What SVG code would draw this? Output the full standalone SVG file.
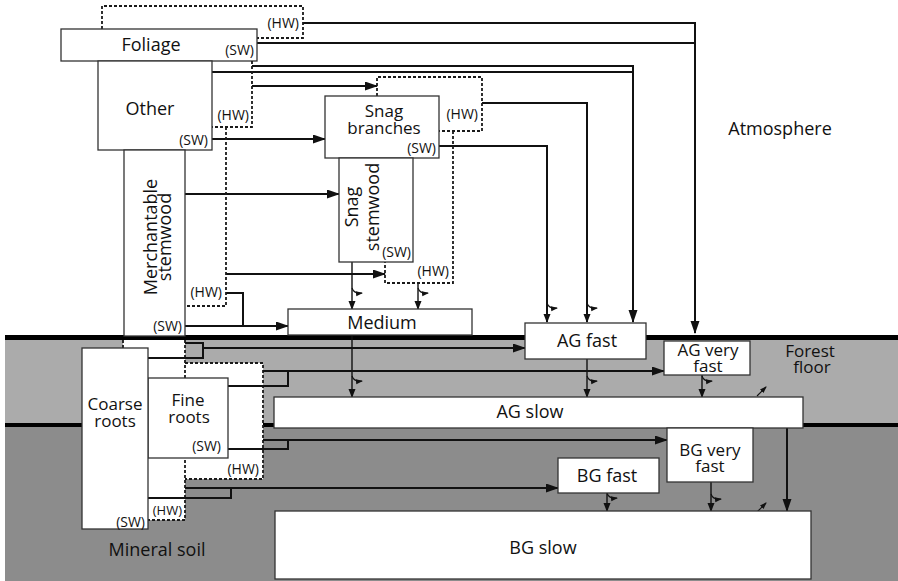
<svg xmlns="http://www.w3.org/2000/svg" width="898" height="581" viewBox="0 0 898 581">
<defs>
<style>
.box{fill:#fff;stroke:#333;stroke-width:1.3}
.dash{fill:none;stroke:#1a1a1a;stroke-width:1.8;stroke-dasharray:3,2}
.c{fill:none;stroke:#111;stroke-width:2}
.ct{fill:none;stroke:#111;stroke-width:1.4}
.cs{fill:none;stroke:#111;stroke-width:1.1}
text{font-family:"Open Sans","Liberation Sans",sans-serif;fill:#111}
.lb{font-size:18px;text-anchor:middle}
.l2{font-size:17px;text-anchor:middle}
.sm{font-size:14px;text-anchor:end}
</style>
<marker id="ah" markerUnits="userSpaceOnUse" markerWidth="13" markerHeight="10" refX="12" refY="4.5" orient="auto"><path d="M0,0 L13,4.5 L0,9 Z" fill="#111"/></marker>
<marker id="am" markerUnits="userSpaceOnUse" markerWidth="9" markerHeight="8" refX="8" refY="3.5" orient="auto"><path d="M0,0 L9,3.5 L0,7 Z" fill="#111"/></marker>
<marker id="at" markerUnits="userSpaceOnUse" markerWidth="7" markerHeight="6" refX="6" refY="2.5" orient="auto"><path d="M0,0 L7,2.5 L0,5 Z" fill="#111"/></marker>
<symbol id="side" overflow="visible"><path d="M0,0 Q2,6 10,5" fill="none" stroke="#111" stroke-width="1.1" marker-end="url(#at)"/></symbol>
</defs>

<g id="layers">
<rect x="5" y="338" width="893" height="88" fill="#ababab"/>
<rect x="5" y="425" width="893" height="156" fill="#8c8c8c"/>
<rect x="5" y="335" width="893" height="5" fill="#000"/>
<rect x="5" y="423" width="893" height="4" fill="#000"/>
</g>

<g id="root-regions">
<rect x="123" y="340" width="62" height="8" fill="#fff"/>
<rect x="148" y="340" width="37" height="180" fill="#fff"/>
<rect x="185" y="363" width="78" height="116" fill="#fff"/>
<path class="dash" d="M123,340 V348"/>
<path class="dash" d="M185,340 V520 H148"/>
<path class="dash" d="M185,363 H263 V479 H185"/>
</g>

<g id="connectors">
<path class="c" d="M303,23 H695 V333" marker-end="url(#ah)"/>
<path class="c" d="M257,43 H695"/>
<path class="c" d="M252,66 H633 V322" marker-end="url(#ah)"/>
<path class="c" d="M212,72 H633"/>
<path class="c" d="M252,86 H377" marker-end="url(#ah)"/>
<path class="c" d="M212,139 H325" marker-end="url(#ah)"/>
<path class="c" d="M185,194 H339" marker-end="url(#ah)"/>
<path class="c" d="M226,274 H385" marker-end="url(#ah)"/>
<path class="c" d="M226,293 H243 V326"/>
<path class="c" d="M185,326 H288" marker-end="url(#ah)"/>
<path class="c" d="M482,103 H587 V322" marker-end="url(#am)"/>
<path class="c" d="M439,146 H547 V322" marker-end="url(#am)"/>
<path class="ct" d="M352,262 V309" marker-end="url(#am)"/>
<path class="ct" d="M418,283 V309" marker-end="url(#am)"/>
<path class="ct" d="M352,336 V397" marker-end="url(#am)"/>
<path class="ct" d="M587,359 V397" marker-end="url(#am)"/>
<path class="ct" d="M702,375 V397" marker-end="url(#am)"/>
<path class="ct" d="M607,493 V511" marker-end="url(#am)"/>
<path class="ct" d="M711,482 V511" marker-end="url(#am)"/>
<path class="c" d="M787,428 V511" marker-end="url(#ah)"/>
<path class="c" d="M185,343 H203 V358 H148"/>
<path class="c" d="M203,348 H525" marker-end="url(#ah)"/>
<path class="c" d="M263,371 H664" marker-end="url(#ah)"/>
<path class="c" d="M228,386 H288 V371"/>
<path class="c" d="M263,440 H667" marker-end="url(#ah)"/>
<path class="c" d="M228,449 H288 V440"/>
<path class="c" d="M185,488 H558" marker-end="url(#ah)"/>
<path class="c" d="M148,498 H231 V488"/>
<use href="#side" x="352" y="288"/>
<use href="#side" x="418" y="288"/>
<use href="#side" x="547" y="303"/>
<use href="#side" x="587" y="303"/>
<use href="#side" x="352" y="376"/>
<use href="#side" x="587" y="376"/>
<use href="#side" x="702" y="376"/>
<use href="#side" x="607" y="493"/>
<use href="#side" x="711" y="494"/>
<path class="cs" d="M757,396 L766,387" marker-end="url(#at)"/>
<path class="cs" d="M757,512 L766,503" marker-end="url(#at)"/>
</g>

<g id="foliage">
<path class="dash" d="M102,29 V6 H303 V38 H257"/>
<rect class="box" x="61" y="29" width="196" height="32"/>
<text class="lb" x="151" y="51">Foliage</text>
<text class="sm" x="254" y="55">(SW)</text>
<text class="sm" x="299" y="28">(HW)</text>
</g>

<g id="other">
<path class="dash" d="M252,61 V127 H212"/>
<rect class="box" x="98" y="61" width="114" height="89"/>
<text class="lb" x="150" y="115">Other</text>
<text class="sm" x="208" y="145">(SW)</text>
<text class="sm" x="249" y="120">(HW)</text>
</g>

<g id="merchantable">
<path class="dash" d="M226,127 V306 H185"/>
<rect class="box" x="124" y="150" width="61" height="186"/>
<text class="lb" transform="translate(157,237) rotate(-90)">Merchantable</text>
<text class="lb" transform="translate(171,237) rotate(-90)">stemwood</text>
<text class="sm" x="182" y="331">(SW)</text>
<text class="sm" x="222" y="297">(HW)</text>
</g>

<g id="snag-branches">
<path class="dash" d="M377,96 V77 H482 V131 H439"/>
<rect class="box" x="325" y="96" width="114" height="62"/>
<text class="l2" x="384" y="117">Snag</text>
<text class="l2" x="384" y="134">branches</text>
<text class="sm" x="436" y="153">(SW)</text>
<text class="sm" x="478" y="119">(HW)</text>
</g>

<g id="snag-stemwood">
<path class="dash" d="M453,131 V283 H385 V262"/>
<rect class="box" x="339" y="158" width="74" height="104"/>
<text class="lb" transform="translate(358,207) rotate(-90)">Snag</text>
<text class="lb" transform="translate(379,207) rotate(-90)">stemwood</text>
<text class="sm" x="411" y="257">(SW)</text>
<text class="sm" x="449" y="276">(HW)</text>
</g>

<g id="medium">
<rect class="box" x="288" y="309" width="184" height="26"/>
<text class="lb" x="382" y="329">Medium</text>
</g>

<g id="ag-fast">
<rect class="box" x="525" y="323" width="121" height="36"/>
<text class="lb" x="587" y="347">AG fast</text>
</g>

<g id="ag-very-fast">
<rect class="box" x="664" y="341" width="86" height="34"/>
<text class="l2" x="708" y="356">AG very</text>
<text class="l2" x="708" y="372">fast</text>
</g>

<g id="ag-slow">
<rect class="box" x="274" y="397" width="529" height="31"/>
<text class="lb" x="530" y="418">AG slow</text>
</g>

<g id="bg-very-fast">
<rect class="box" x="667" y="428" width="86" height="54"/>
<text class="l2" x="710" y="456">BG very</text>
<text class="l2" x="710" y="472">fast</text>
</g>

<g id="bg-fast">
<rect class="box" x="558" y="458" width="101" height="35"/>
<text class="lb" x="607" y="482">BG fast</text>
</g>

<g id="bg-slow">
<rect class="box" x="275" y="511" width="536" height="68"/>
<text class="lb" x="543" y="554">BG slow</text>
</g>

<g id="fine-roots">
<rect class="box" x="148" y="378" width="80" height="80"/>
<text class="l2" x="188" y="406">Fine</text>
<text class="l2" x="189" y="423">roots</text>
<text class="sm" x="221" y="451">(SW)</text>
<text class="sm" x="259" y="474">(HW)</text>
</g>

<g id="coarse-roots">
<rect class="box" x="82" y="348" width="66" height="181"/>
<text class="l2" x="115" y="410">Coarse</text>
<text class="l2" x="115" y="427">roots</text>
<text class="sm" x="145" y="527">(SW)</text>
<text class="sm" x="182" y="515" style="font-size:13px">(HW)</text>
</g>

<g id="labels">
<text class="lb" x="780" y="135">Atmosphere</text>
<text class="l2" x="810" y="357">Forest</text>
<text class="l2" x="812" y="373">floor</text>
<text class="lb" x="157" y="556">Mineral soil</text>
</g>
</svg>
